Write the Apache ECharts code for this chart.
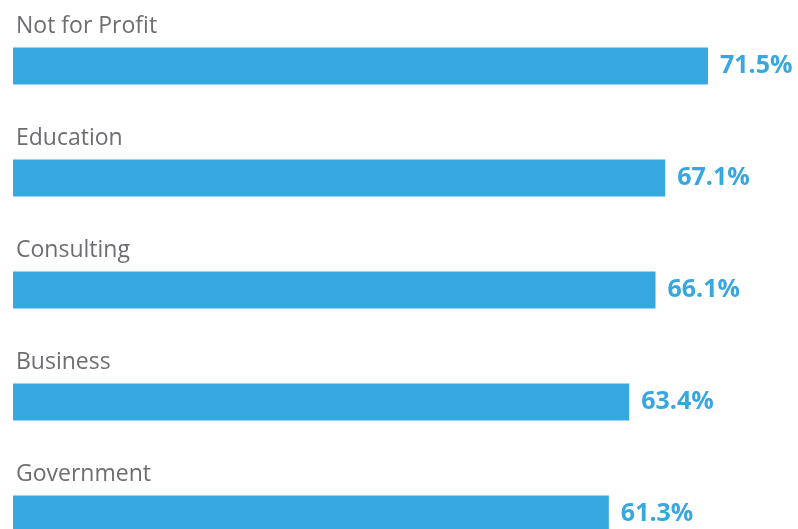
<!DOCTYPE html>
<html><head><meta charset="utf-8">
<script src="https://cdn.jsdelivr.net/npm/echarts@6/dist/echarts.min.js"></script>
<style>html,body{margin:0;padding:0;background:#fff}#c{width:798px;height:529px}</style>
</head><body><div id="c"></div>
<script>
const categories = ["Not for Profit", "Education", "Consulting", "Business", "Government"];
const values = [71.5, 67.1, 66.1, 63.4, 61.3];

const chart = echarts.init(document.getElementById('c'), null, {renderer: 'canvas'});
chart.setOption({
  animation: false,
  grid: {left: 13, top: 10, right: 7.4, bottom: -41, containLabel: false, outerBoundsMode: 'none'},
  xAxis: {type: 'value', min: 0, max: 80, show: false},
  yAxis: {type: 'category', data: categories, inverse: true, show: false},
  series: [
    {
      type: 'bar', data: values, barWidth: 37,
      itemStyle: {color: '#36a8df'},
      label: {
        show: true, position: 'right', distance: 12,
        formatter: p => p.value.toFixed(1) + '%',
        fontFamily: 'Open Sans', fontWeight: 'bold', fontSize: 25, color: '#36a8df'
      }
    },
    {
      type: 'bar', data: values, barWidth: 37, barGap: '-100%',
      itemStyle: {color: 'rgba(0,0,0,0)'}, silent: true,
      label: {
        show: true, position: [3, -21], align: 'left', verticalAlign: 'middle',
        formatter: '{b}',
        fontFamily: 'Open Sans', fontSize: 23, color: '#6d6e71'
      }
    }
  ]
});
</script></body></html>
